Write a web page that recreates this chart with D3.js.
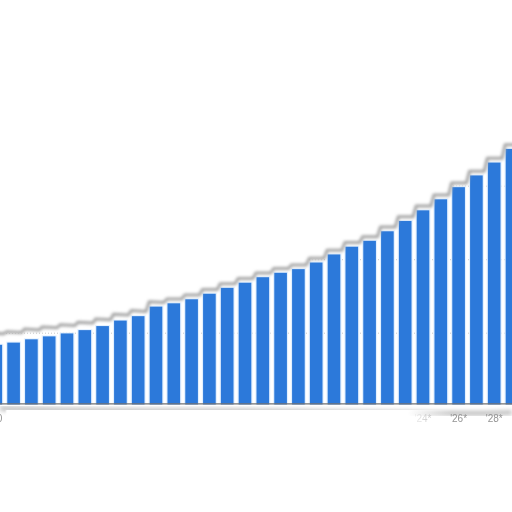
<!DOCTYPE html>
<html>
<head>
<meta charset="utf-8">
<script src="https://cdn.jsdelivr.net/npm/d3@7"></script>
<style>
  html, body { margin: 0; padding: 0; background: #fff; }
  svg { display: block; }
</style>
</head>
<body>
<svg id="chart" width="512" height="512"></svg>
<script>
// years shown (2000 is cut off at the left edge, 2029 at the right)
const years = [2000, 2001, 2002, 2003, 2004, 2005, 2006, 2007, 2008, 2009,
               2010, 2011, 2012, 2013, 2014, 2015, 2016, 2017, 2018, 2019,
               2020, 2021, 2022, 2023, 2024, 2025, 2026, 2027, 2028, 2029];
const values = [1.67, 1.73, 1.82, 1.90, 1.98, 2.07, 2.18, 2.33, 2.45, 2.71,
                2.80, 2.91, 3.06, 3.22, 3.36, 3.51, 3.63, 3.73, 3.91, 4.13,
                4.34, 4.50, 4.76, 5.04, 5.33, 5.63, 5.96, 6.28, 6.63, 7.00];
const tickYears  = [2000, 2002, 2004, 2006, 2008, 2010, 2012, 2014,
                    2016, 2018, 2020, 2022, 2024, 2026, 2028];
const tickLabels = ["'00", "'02", "'04", "'06", "'08", "'10", "'12", "'14",
                    "'16", "'18", "'20", "'22", "'24*", "'26*", "'28*"];
const gridValues = [2, 4, 6, 8];

const width = 512, height = 512;
const svg = d3.select('#chart');

let x = d3.scaleBand()
    .domain(years)
    .range([-13.1, 520.9])
    .paddingInner(0.29)
    .paddingOuter(0.145);

let y = d3.scaleLinear()
    .domain([0, 10])
    .range([406.2, 38.7]);

const bw = x.bandwidth(),
      gapHalf = (x.step() - bw) / 2;

let defs = svg.append('defs');
defs.append('filter').attr('id', 'soft')
    .attr('x', '-10%').attr('y', '-50%').attr('width', '120%').attr('height', '200%')
    .append('feGaussianBlur').attr('stdDeviation', 1.6);
defs.append('filter').attr('id', 'soft2')
    .attr('x', '-10%').attr('y', '-50%').attr('width', '120%').attr('height', '200%')
    .append('feGaussianBlur').attr('stdDeviation', 2);
defs.append('filter').attr('id', 'textSoft')
    .append('feGaussianBlur').attr('stdDeviation', 0.35);

let fade = defs.append('linearGradient').attr('id', 'labelFade')
    .attr('gradientUnits', 'userSpaceOnUse')
    .attr('x1', 0).attr('x2', width).attr('y1', 0).attr('y2', 0);
[[0, 0], [5, 0], [7, 1], [408, 1], [452, 0], [512, 0]].forEach(s => {
    fade.append('stop')
        .attr('offset', s[0] / width)
        .attr('stop-color', '#fff')
        .attr('stop-opacity', s[1]);
});

// dotted grid
svg.append('g')
    .selectAll('line')
    .data(gridValues)
    .enter().append('line')
    .attr('x1', 0).attr('x2', width)
    .attr('y1', d => y(d) + 0.5).attr('y2', d => y(d) + 0.5)
    .attr('stroke', '#c8c8c8')
    .attr('stroke-width', 1)
    .attr('stroke-dasharray', '1,2');

// bars, with a pale halo
let bars = svg.append('g');
bars.selectAll('.halo')
    .data(years)
    .enter().append('rect')
    .attr('class', 'halo')
    .attr('x', d => x(d) - 1.2)
    .attr('y', (d, i) => y(values[i]) - 1)
    .attr('width', bw + 2.4)
    .attr('height', (d, i) => y(0) - y(values[i]) + 1)
    .attr('fill', '#e2f0ff');
bars.selectAll('.bar')
    .data(years)
    .enter().append('rect')
    .attr('class', 'bar')
    .attr('x', d => x(d))
    .attr('y', (d, i) => y(values[i]))
    .attr('width', bw)
    .attr('height', (d, i) => y(0) - y(values[i]))
    .attr('fill', '#2c79da');

// torn top edge following the bar tops
let off = px => 3 + 7 * Math.max(0, 1 - px / 160);
let edge = [];
years.forEach((yr, i) => {
    let x0 = x(yr) - gapHalf,
        x1 = x(yr) + bw + gapHalf,
        top = y(values[i]);
    if (i == 0) edge.push([-20, top - off(0)]);
    edge.push([x0 + 2, top - off(x0)]);
    edge.push([x1 - 1, top - off(x1)]);
});
edge.push([540, edge[edge.length - 1][1]]);

let line = d3.line();
svg.append('path')
    .attr('d', 'M-20,-20L540,-20L' + edge.slice().reverse().map(p => p.join(',')).join('L') + 'Z')
    .attr('fill', '#fff');
svg.append('path')
    .attr('d', line(edge))
    .attr('transform', 'translate(0,-1.2)')
    .attr('fill', 'none')
    .attr('stroke', '#a4a4a4')
    .attr('stroke-width', 3)
    .attr('stroke-linejoin', 'round')
    .attr('filter', 'url(#soft)');

// torn bottom edge
svg.append('rect')
    .attr('x', -10).attr('y', 404.5)
    .attr('width', width + 20).attr('height', 120)
    .attr('fill', '#fff');
let bottomShadow = [[0, 408.5], [60, 410], [140, 411], [230, 410.5], [330, 412], [420, 413], [470, 413.5], [512, 412.5]];
svg.append('path')
    .attr('d', d3.line().curve(d3.curveBasis)(bottomShadow))
    .attr('fill', 'none')
    .attr('stroke', '#c2c2c2')
    .attr('stroke-width', 5)
    .attr('filter', 'url(#soft2)');
svg.append('line')
    .attr('x1', 0).attr('x2', width)
    .attr('y1', y(0) - 2.3).attr('y2', y(0) - 2.3)
    .attr('stroke', '#727272')
    .attr('stroke-width', 1.3);

// tick labels, washed out except at the right end
svg.append('g')
    .attr('filter', 'url(#textSoft)')
    .selectAll('text')
    .data(tickYears)
    .enter().append('text')
    .attr('x', d => x(d) + bw / 2)
    .attr('y', 421.5)
    .attr('text-anchor', 'middle')
    .attr('font-family', 'Liberation Sans, Arial, sans-serif')
    .attr('font-size', 10)
    .attr('fill', '#939393')
    .text((d, i) => tickLabels[i]);
svg.append('rect')
    .attr('x', 0).attr('y', 410)
    .attr('width', width).attr('height', 16)
    .attr('fill', 'url(#labelFade)');
</script>
</body>
</html>
